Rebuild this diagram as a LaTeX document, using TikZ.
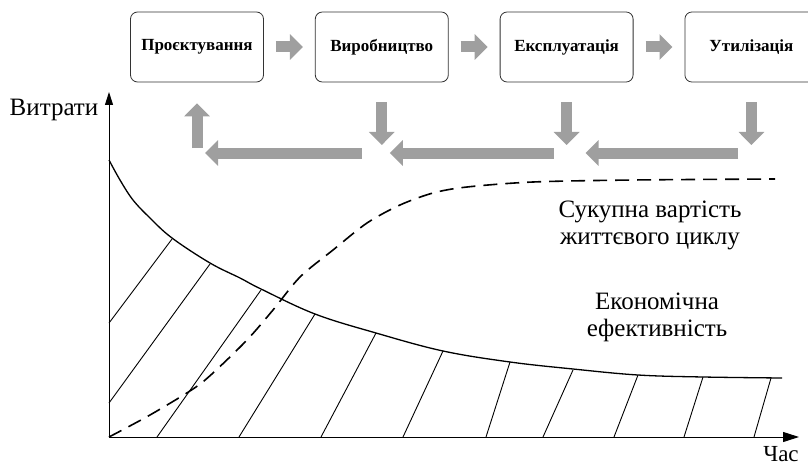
\documentclass[tikz,border=0pt]{standalone}
\usepackage{fontspec}
\setmainfont{Liberation Serif}
\usetikzlibrary{arrows.meta,positioning}

\tikzset{
  etap/.style={draw=black!80, line width=0.8pt, rounded corners=7pt, minimum width=133pt,
    minimum height=70pt, fill=white, font=\fontsize{17}{20}\selectfont\bfseries},
  strilka/.style={line width=11pt, gray!75, -{Triangle[width=25pt,length=13pt]}},
  pidpys/.style={font=\fontsize{25}{27}\selectfont, align=center},
}

\begin{document}
\begin{tikzpicture}[x=1pt,y=-1pt]
        \useasboundingbox (0,0) rectangle (808,468);
        % Etapy
        \node[etap] (proekt) at (197,47) {Проєктування};
        \node[etap, right=51pt of proekt] (vyrob) {Виробництво};
        \node[etap, right=51pt of vyrob] (eksp) {Експлуатація};
        \node[etap, right=51pt of eksp] (util) {Утилізація};
        \foreach \a/\b in {proekt/vyrob, vyrob/eksp, eksp/util}{
            \draw[strilka, shorten <=12pt, shorten >=12pt] (\a) -- (\b);
        }
        % Povernennia
        \coordinate (riven) at (0,153);
        \foreach \a in {vyrob, eksp, util}{
            \draw[strilka, shorten <=20pt, shorten >=8pt] (\a.south) -- (\a.south |- riven);
        }
        \draw[strilka, shorten <=5pt, shorten >=21pt] (proekt.south |- riven) -- (proekt.south);
        \draw[strilka, shorten <=20pt, shorten >=8pt] (vyrob.south |- riven) -- (proekt.south |- riven);
        \draw[strilka, shorten <=13pt, shorten >=8pt] (eksp.south |- riven) -- (vyrob.south |- riven);
        \draw[strilka, shorten <=13pt, shorten >=19pt] (util.south |- riven) -- (eksp.south |- riven);
        % Osi
        \coordinate (O) at (109,437);
        \coordinate (ykin) at (109,92);
        \coordinate (xkin) at (799,437);
        \draw[line width=1pt, -{Triangle[length=13pt,width=8pt]}] (O) -- (ykin);
        \draw[line width=1pt, -{Triangle[length=16pt,width=10pt]}] (O) -- (xkin);
        \node[pidpys] (vytraty) at (54,110) {Витрати};
        \node[pidpys, font=\fontsize{23}{25}\selectfont] (chas) at (781,454) {Час};
        % Ekonomichna efektyvnist
        \draw[line width=1.3pt] plot[smooth, tension=0.6] coordinates {(109,160) (120,180)
            (133,200) (150,218) (172,238) (210,263) (240,278) (261,289) (315,314)
            (376,333) (443,351) (510,362) (573,369) (638,375) (703,377) (782,378)};
        \foreach \a/\b/\c/\d in {109/323/172/239, 109/403/210/264, 157/437/261/290,
            239/437/315/314, 321/437/376/333, 403/437/443/351, 486/437/510/362,
            543/437/573/370, 614/437/638/375, 684/437/703/377, 754/437/771/378}{
            \draw[line width=0.9pt] (\a,\b) -- (\c,\d);
        }
        % Sukupna vartist
        \draw[line width=1.6pt, dash pattern=on 14pt off 8pt] plot[smooth] coordinates {
            (109,437) (150,415) (193,389) (213,373) (247,340) (273,310) (300,277)
            (333,250) (367,223) (400,205) (433,193) (467,187) (533,182) (633,180) (775,179)};
        \node[pidpys] (vartist) at (650,225) {Сукупна вартість\\життєвого циклу};
        \node[pidpys] (efekt) at (657,317) {Економічна\\ефективність};
    \end{tikzpicture}
\end{document}
